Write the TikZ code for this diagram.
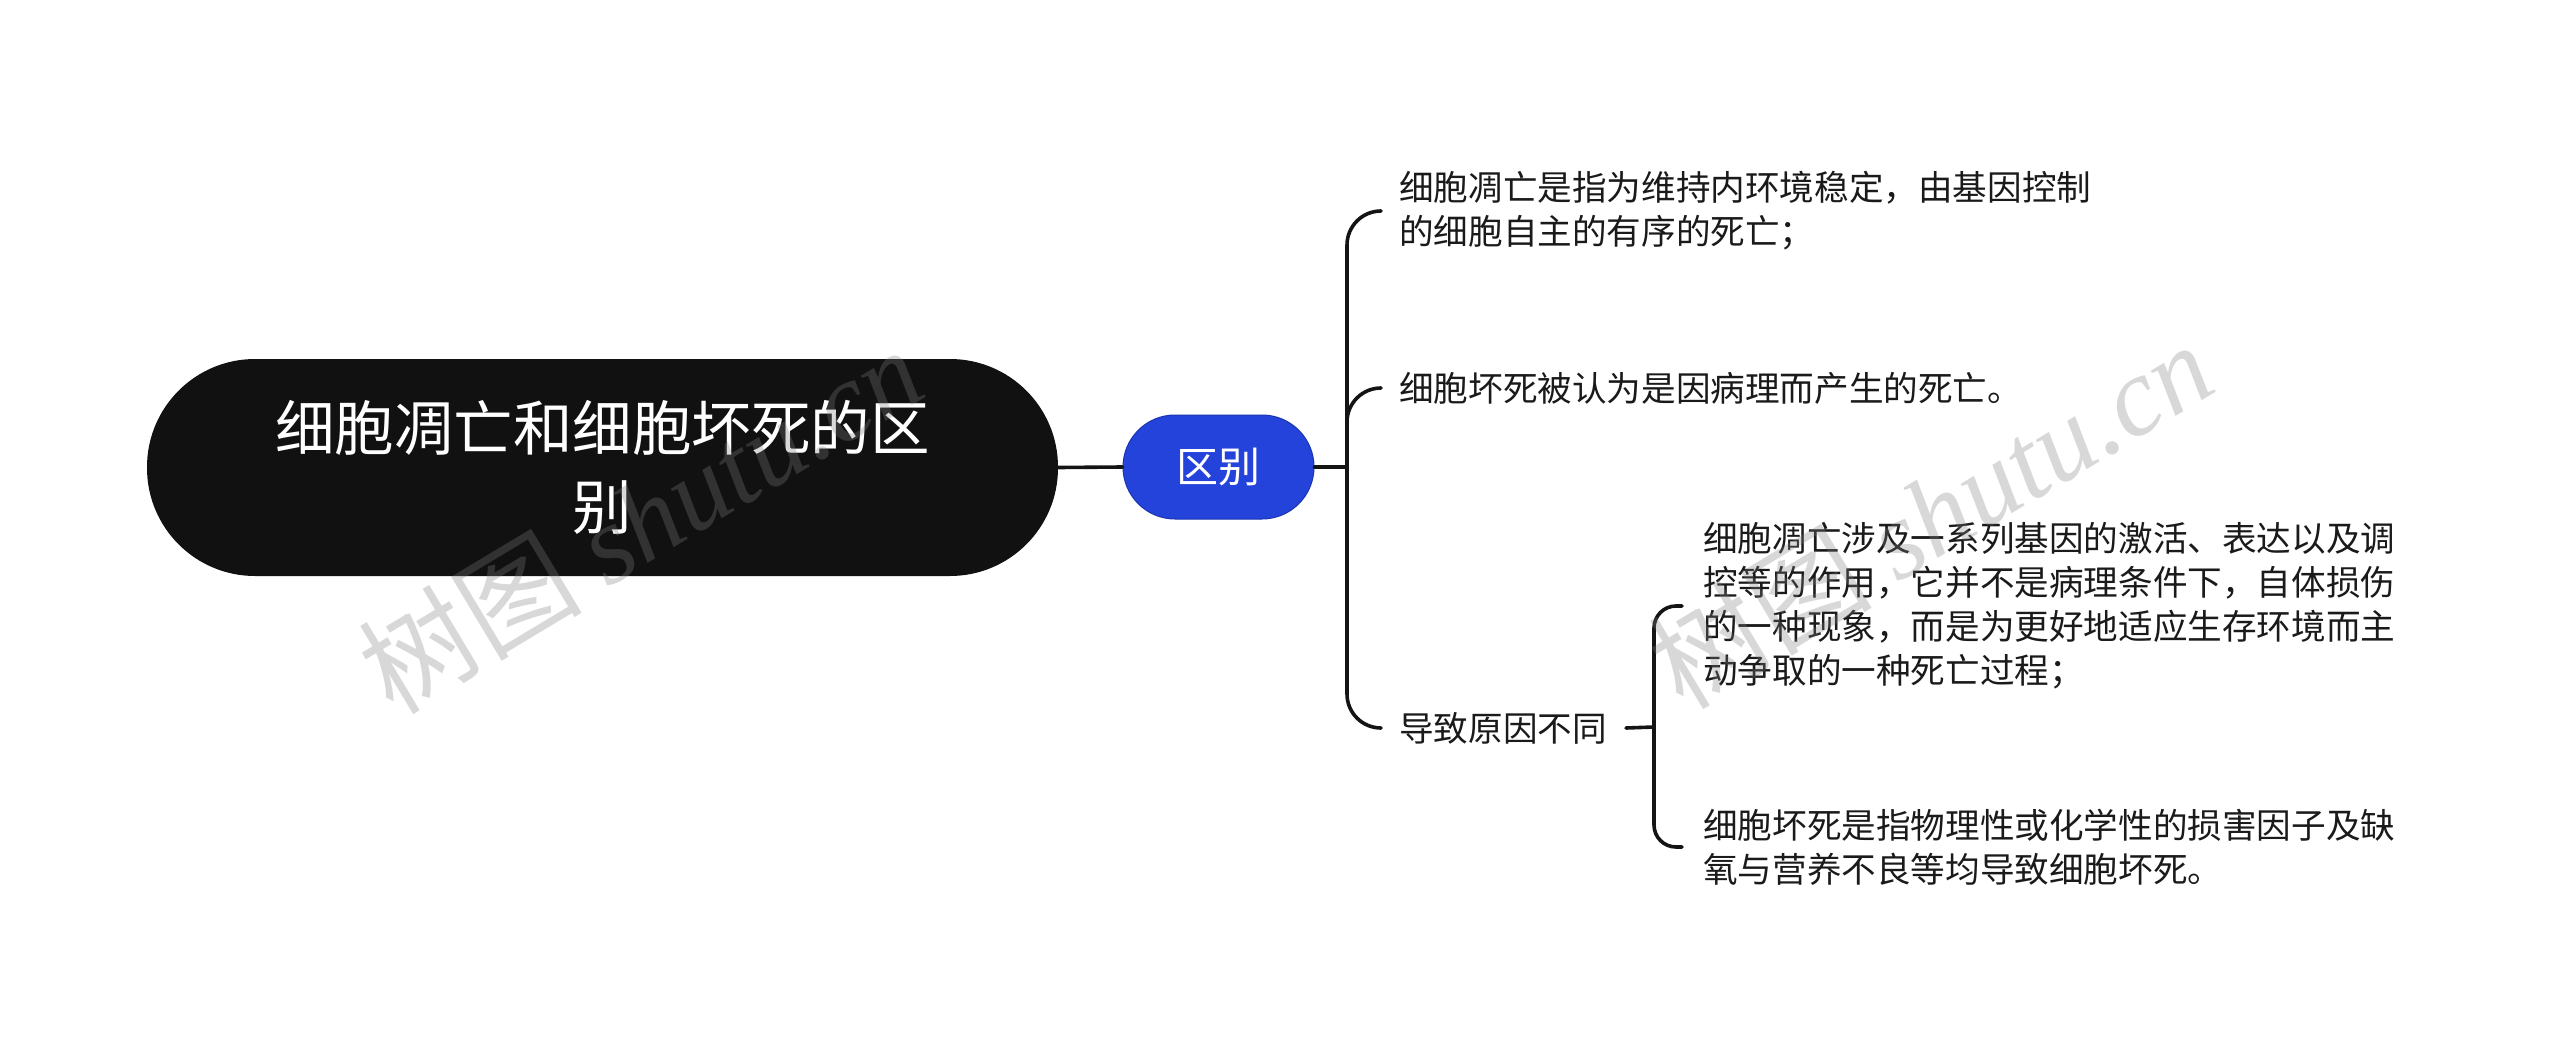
\documentclass[tikz,border=0pt]{standalone}
\usepackage{fontspec}
\setmainfont{Noto Sans CJK SC}
\newfontfamily\wmlatin{Liberation Serif}
\definecolor{rootfill}{HTML}{111111}
\definecolor{subfill}{HTML}{2443DB}
\definecolor{subdraw}{HTML}{1A34B0}
\definecolor{leaftext}{HTML}{1A1A1A}
\definecolor{linecol}{HTML}{141414}
\begin{document}
\begin{tikzpicture}[x=1pt,y=-1pt,
  conn/.style={line width=3.6pt, draw=linecol, line cap=round, line join=round},
  rootbox/.style={fill=rootfill, rounded corners=108pt, minimum width=911pt, minimum height=217pt,
    text=white, font=\fontsize{59.5}{79}\selectfont, align=center, inner sep=0pt},
  subbox/.style={fill=subfill, draw=subdraw, line width=1pt, rounded corners=52pt, minimum width=191pt,
    minimum height=104pt, text=white, font=\fontsize{42}{48}\selectfont, inner sep=0pt},
  leaf/.style={anchor=west, inner sep=0pt, align=left, font=\fontsize{34.6}{44}\selectfont, text=leaftext},
  wm/.style={text=gray, opacity=0.3, font=\fontsize{112}{112}\selectfont, rotate=31, inner sep=0pt}
]
\useasboundingbox (0,0) rectangle (2560,1057);
\fill[white] (0,0) rectangle (2560,1057);

\node[rootbox] (root) at (602.5,467.5) {细胞凋亡和细胞坏死的区\\别};
\node[subbox] (sub) at (1218.5,467) {区别};

\node[leaf] (t1) at (1399,211) {细胞凋亡是指为维持内环境稳定，由基因控制\\的细胞自主的有序的死亡；};
\node[leaf] (t2) at (1399,388) {细胞坏死被认为是因病理而产生的死亡。};
\node[leaf] (t3) at (1399,728) {导致原因不同};
\node[leaf] (t4) at (1703,606) {细胞凋亡涉及一系列基因的激活、表达以及调\\控等的作用，它并不是病理条件下，自体损伤\\的一种现象，而是为更好地适应生存环境而主\\动争取的一种死亡过程；};
\node[leaf] (t5) at (1703,847) {细胞坏死是指物理性或化学性的损害因子及缺\\氧与营养不良等均导致细胞坏死。};

\coordinate (j1) at (1347,467);
\coordinate (j2) at (1654,727);

\draw[conn] (root.east) -- (sub.west);
\draw[conn] (sub.east) -- (j1);
\draw[conn, rounded corners=34pt] (j1) |- ([xshift=-19pt]t1.west);
\draw[conn, rounded corners=34pt] (j1) |- ([xshift=-19pt]t2.west);
\draw[conn, rounded corners=34pt] (j1) |- ([xshift=-19pt]t3.west);

\draw[conn] ([xshift=19pt]t3.east) -- (j2);
\draw[conn, rounded corners=22pt] (j2) |- ([xshift=-21pt]t4.west);
\draw[conn, rounded corners=22pt] (j2) |- ([xshift=-21pt]t5.west);

\node[wm] (wm1) at (640,519) {树图 {\wmlatin\itshape shutu.cn}};
\node[wm] (wm2) at (1930,514) {树图 {\wmlatin\itshape shutu.cn}};
\end{tikzpicture}
\end{document}
